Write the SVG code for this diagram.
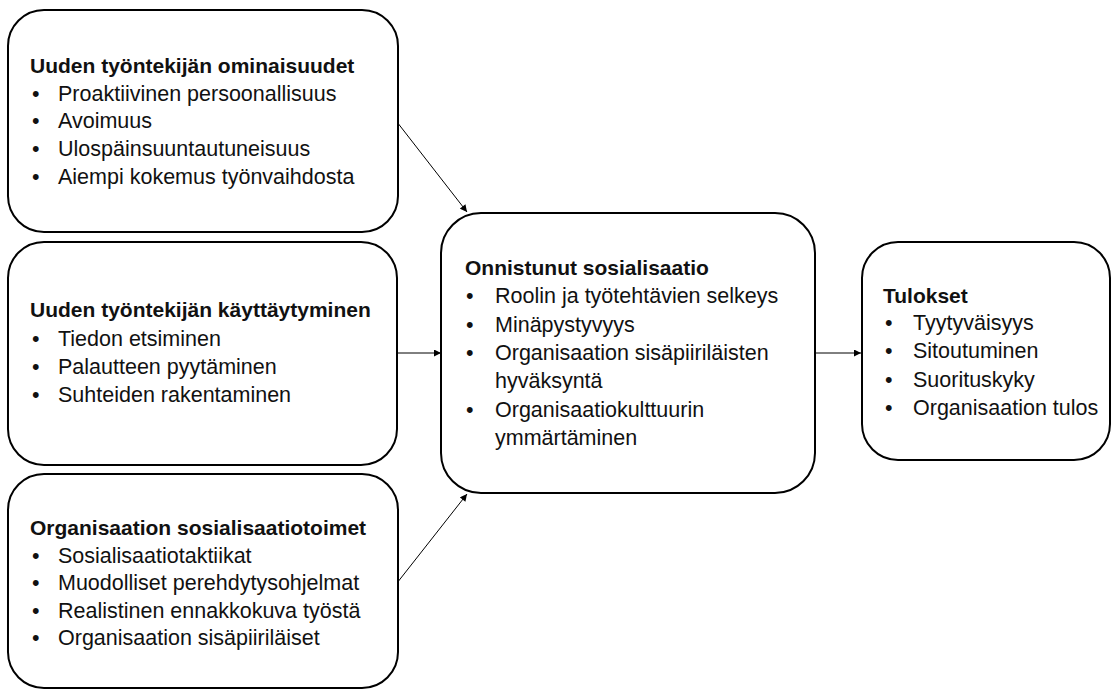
<svg xmlns="http://www.w3.org/2000/svg" width="1114" height="690" viewBox="0 0 1114 690">
<defs>
<marker id="ah" viewBox="0 0 10 10" refX="10" refY="5" markerWidth="9" markerHeight="7" markerUnits="userSpaceOnUse" orient="auto">
<path d="M0,0 L10,5 L0,10 z" fill="#000"/>
</marker>
<style>
.box{fill:#fff;stroke:#000;stroke-width:2}
.t{font-family:"Liberation Sans",Arial,sans-serif;font-size:21.5px;fill:#111}
.h{font-weight:bold;font-size:21px}
.c{stroke:#000;stroke-width:1;fill:none;marker-end:url(#ah)}
</style>
</defs>
<rect width="1114" height="690" fill="#fff"/>
<g id="connectors">
<line class="c" x1="397" y1="122" x2="467" y2="212"/>
<line class="c" x1="397" y1="353" x2="441" y2="353"/>
<line class="c" x1="397" y1="583" x2="467" y2="494"/>
<line class="c" x1="815" y1="353" x2="861" y2="353"/>
</g>
<g id="n1">
<rect class="box" x="8" y="10" width="390" height="222" rx="36"/>
<text class="t h" x="30" y="73">Uuden työntekijän ominaisuudet</text>
<text class="t" x="32" y="100.5">•</text><text class="t" x="58" y="100.5">Proaktiivinen persoonallisuus</text>
<text class="t" x="32" y="128">•</text><text class="t" x="58" y="128">Avoimuus</text>
<text class="t" x="32" y="156">•</text><text class="t" x="58" y="156">Ulospäinsuuntautuneisuus</text>
<text class="t" x="32" y="184">•</text><text class="t" x="58" y="184">Aiempi kokemus työnvaihdosta</text>
</g>
<g id="n2">
<rect class="box" x="8" y="242" width="389" height="223" rx="36"/>
<text class="t h" x="30" y="317">Uuden työntekijän käyttäytyminen</text>
<text class="t" x="32" y="346">•</text><text class="t" x="58" y="346">Tiedon etsiminen</text>
<text class="t" x="32" y="374">•</text><text class="t" x="58" y="374">Palautteen pyytäminen</text>
<text class="t" x="32" y="402">•</text><text class="t" x="58" y="402">Suhteiden rakentaminen</text>
</g>
<g id="n3">
<rect class="box" x="8" y="474" width="390" height="214" rx="36"/>
<text class="t h" x="30" y="535">Organisaation sosialisaatiotoimet</text>
<text class="t" x="32" y="563">•</text><text class="t" x="58" y="563">Sosialisaatiotaktiikat</text>
<text class="t" x="32" y="590">•</text><text class="t" x="58" y="590">Muodolliset perehdytysohjelmat</text>
<text class="t" x="32" y="618">•</text><text class="t" x="58" y="618">Realistinen ennakkokuva työstä</text>
<text class="t" x="32" y="645">•</text><text class="t" x="58" y="645">Organisaation sisäpiiriläiset</text>
</g>
<g id="n4">
<rect class="box" x="441" y="213" width="374" height="280" rx="40"/>
<text class="t h" x="465" y="275">Onnistunut sosialisaatio</text>
<text class="t" x="466" y="303">•</text><text class="t" x="495" y="303">Roolin ja työtehtävien selkeys</text>
<text class="t" x="466" y="332">•</text><text class="t" x="495" y="332">Minäpystyvyys</text>
<text class="t" x="466" y="360">•</text><text class="t" x="495" y="360">Organisaation sisäpiiriläisten</text>
<text class="t" x="495" y="388">hyväksyntä</text>
<text class="t" x="466" y="417">•</text><text class="t" x="495" y="417">Organisaatiokulttuurin</text>
<text class="t" x="495" y="445">ymmärtäminen</text>
</g>
<g id="n5">
<rect class="box" x="862" y="242" width="248" height="218" rx="36"/>
<text class="t h" x="883" y="303">Tulokset</text>
<text class="t" x="885" y="330">•</text><text class="t" x="913" y="330">Tyytyväisyys</text>
<text class="t" x="885" y="358">•</text><text class="t" x="913" y="358">Sitoutuminen</text>
<text class="t" x="885" y="387">•</text><text class="t" x="913" y="387">Suorituskyky</text>
<text class="t" x="885" y="415">•</text><text class="t" x="913" y="415">Organisaation tulos</text>
</g>
</svg>
